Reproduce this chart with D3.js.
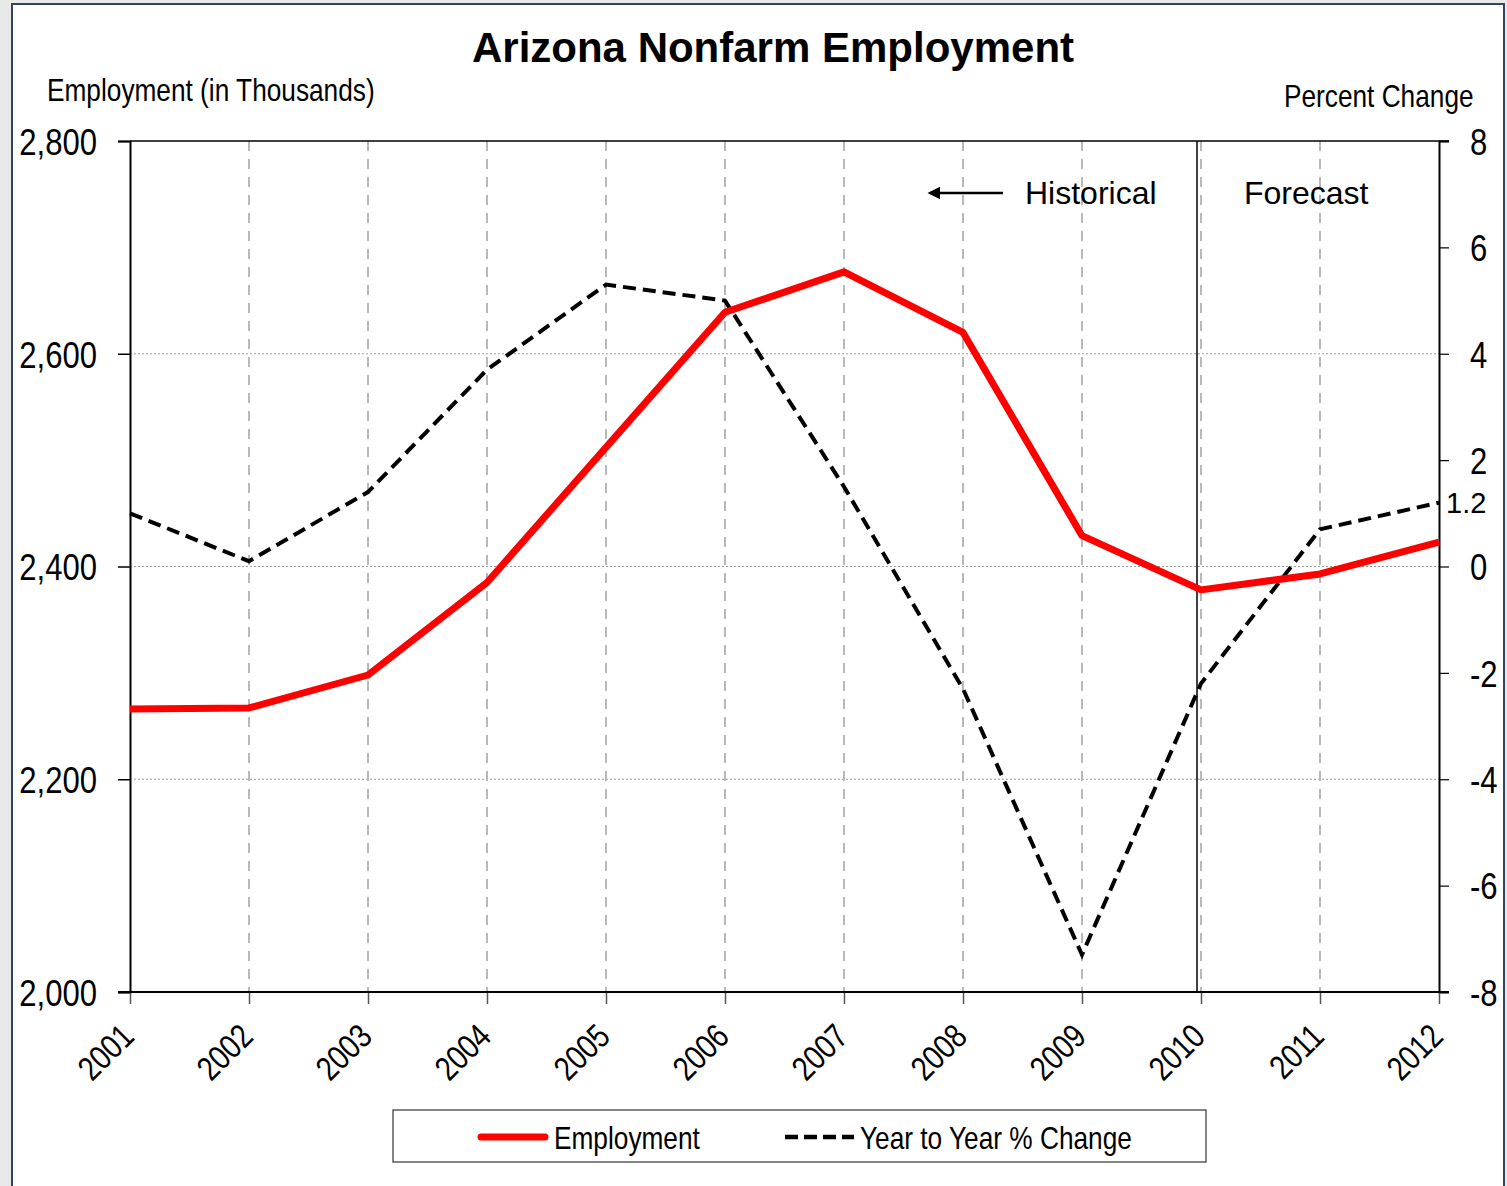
<!DOCTYPE html>
<html>
<head>
<meta charset="utf-8">
<script src="https://cdn.jsdelivr.net/npm/d3@7"></script>
<style>
    body { margin: 0; background: #e9e9e9; }
    #chart { width: 1507px; height: 1186px; }
    text { fill: #000; font-family: "Liberation Sans", Arial, sans-serif; }
</style>
</head>
<body>
<div id="chart"></div>
<script>
const years = [2001, 2002, 2003, 2004, 2005, 2006, 2007, 2008, 2009, 2010, 2011, 2012];
const employment = [2266, 2267, 2298, 2385, 2512, 2639, 2677, 2620, 2429, 2378, 2393, 2423];
const pctChange = [1.0, 0.1, 1.4, 3.7, 5.3, 5.0, 1.5, -2.3, -7.3, -2.2, 0.7, 1.2];
const leftTicks = [2000, 2200, 2400, 2600, 2800];
const rightTicks = [-8, -6, -4, -2, 0, 2, 4, 6, 8];
const forecastStart = 2010;

// no Arial Narrow here, so squeeze the glyphs instead
function condense(sel, f) {
    sel.each(function() {
        const w = this.getComputedTextLength();
        d3.select(this).attr("textLength", w * f).attr("lengthAdjust", "spacingAndGlyphs");
    });
}

const svg = d3.select("#chart").append("svg")
    .attr("width", 1507)
    .attr("height", 1186);

// card behind the chart
svg.append("rect")
    .attr("x", 12).attr("y", 4)
    .attr("width", 1492).attr("height", 1190)
    .attr("fill", "#fff")
    .attr("stroke", "#2f4563")
    .attr("stroke-width", 2);

const margin = {top: 141, left: 130, right: 1439, bottom: 992};

const x = d3.scaleLinear().domain([2001, 2012]).range([margin.left, margin.right]);
const yL = d3.scaleLinear().domain([2000, 2800]).range([margin.bottom, margin.top]);
const yR = d3.scaleLinear().domain([-8, 8]).range([margin.bottom, margin.top]);

// horizontal dotted gridlines
svg.append("g").selectAll("line")
    .data(leftTicks.filter(d => d > 2000 && d < 2800))
    .join("line")
    .attr("x1", margin.left).attr("x2", margin.right)
    .attr("y1", d => yL(d)).attr("y2", d => yL(d))
    .attr("stroke", "#9a9a9a")
    .attr("stroke-width", 1)
    .attr("stroke-dasharray", "2,2");

// vertical dashed gridlines
svg.append("g").selectAll("line")
    .data(years.slice(1, -1))
    .join("line")
    .attr("x1", d => x(d)).attr("x2", d => x(d))
    .attr("y1", margin.top).attr("y2", margin.bottom)
    .attr("stroke", "#b8b8b8")
    .attr("stroke-width", 2)
    .attr("stroke-dasharray", "10,8");

// plot frame top
svg.append("line")
    .attr("x1", margin.left).attr("x2", margin.right + 10)
    .attr("y1", margin.top).attr("y2", margin.top)
    .attr("stroke", "#000").attr("stroke-width", 1.5);

// left axis
const leftAxis = svg.append("g")
    .attr("transform", `translate(${margin.left},0)`)
    .call(d3.axisLeft(yL).tickValues(leftTicks).tickSize(12).tickPadding(21).tickFormat(d3.format(",")));
leftAxis.select(".domain").attr("stroke", "#000").attr("stroke-width", 2);
leftAxis.selectAll(".tick line").attr("stroke", "#000").attr("stroke-width", 1.5);
leftAxis.selectAll("text").attr("font-size", 37).attr("dy", "0.36em").attr("font-family", null)
    .call(condense, 0.84);

// right axis
const rightAxis = svg.append("g")
    .attr("transform", `translate(${margin.right},0)`)
    .call(d3.axisRight(yR).tickValues(rightTicks).tickSize(10).tickFormat(d => String(d)));
rightAxis.select(".domain").attr("stroke", "#000").attr("stroke-width", 2);
rightAxis.selectAll(".tick line").attr("stroke", "#000").attr("stroke-width", 1.2);
rightAxis.selectAll("text").attr("font-size", 37).attr("dy", "0.36em").attr("font-family", null)
    .attr("text-anchor", "start").attr("x", 31)
    .call(condense, 0.84);

// bottom axis
const bottomAxis = svg.append("g")
    .attr("transform", `translate(0,${margin.bottom})`)
    .call(d3.axisBottom(x).tickValues(years).tickSize(12).tickFormat(d3.format("d")));
bottomAxis.select(".domain").remove();
bottomAxis.selectAll(".tick line").attr("stroke", "#555").attr("stroke-width", 1.5);
bottomAxis.selectAll("text")
    .attr("font-size", 34)
    .attr("font-family", null)
    .attr("text-anchor", "end")
    .attr("dy", "0.35em")
    .attr("x", 0).attr("y", 0)
    .attr("transform", "translate(-3,38) rotate(-45)")
    .call(condense, 0.82);
svg.append("line")
    .attr("x1", margin.left - 12).attr("x2", margin.right + 10)
    .attr("y1", margin.bottom).attr("y2", margin.bottom)
    .attr("stroke", "#000").attr("stroke-width", 2);

// forecast divider
svg.append("line")
    .attr("x1", x(forecastStart) - 4).attr("x2", x(forecastStart) - 4)
    .attr("y1", margin.top).attr("y2", margin.bottom)
    .attr("stroke", "#000").attr("stroke-width", 1.5);

// lines
const empLine = d3.line().x((d, i) => x(years[i])).y(d => yL(d));
const pctLine = d3.line().x((d, i) => x(years[i])).y(d => yR(d));

svg.append("path")
    .datum(pctChange)
    .attr("fill", "none")
    .attr("stroke", "#000")
    .attr("stroke-width", 4)
    .attr("stroke-dasharray", "13,7")
    .attr("d", pctLine);

svg.append("path")
    .datum(employment)
    .attr("fill", "none")
    .attr("stroke", "#ff0000")
    .attr("stroke-width", 7)
    .attr("stroke-linejoin", "round")
    .attr("d", empLine);

// last value label
svg.append("text")
    .attr("x", x(2012) + 7)
    .attr("y", yR(pctChange[pctChange.length - 1]) + 10)
    .attr("font-family", "'Liberation Serif', 'Times New Roman', serif")
    .attr("font-size", 29)
    .text(pctChange[pctChange.length - 1].toFixed(1));

// title and axis titles
svg.append("text")
    .attr("x", 773).attr("y", 62)
    .attr("text-anchor", "middle")
    .attr("font-weight", "bold")
    .attr("font-size", 42)
    .text("Arizona Nonfarm Employment");

svg.append("text")
    .attr("x", 47).attr("y", 101)
    .attr("font-size", 32)
    .text("Employment (in Thousands)")
    .call(condense, 0.82);

// squeezed with a transform so its box stays honest
svg.append("text")
    .attr("transform", "translate(1284,107) scale(0.82,1)")
    .attr("font-size", 32)
    .text("Percent Change");

// Historical / Forecast annotations
svg.append("defs").append("marker")
    .attr("id", "arrow")
    .attr("viewBox", "0 0 10 10")
    .attr("refX", 8).attr("refY", 5)
    .attr("markerWidth", 6).attr("markerHeight", 5)
    .attr("orient", "auto")
    .append("path")
    .attr("d", "M0,0 L10,5 L0,10 z")
    .attr("fill", "#000");

svg.append("line")
    .attr("x1", 1003).attr("x2", 930)
    .attr("y1", 193).attr("y2", 193)
    .attr("stroke", "#000").attr("stroke-width", 2.5)
    .attr("marker-end", "url(#arrow)");

svg.append("text")
    .attr("x", 1025).attr("y", 204)
    .attr("font-size", 32)
    .text("Historical");

svg.append("text")
    .attr("x", 1244).attr("y", 204)
    .attr("font-size", 32)
    .text("Forecast");

// legend
const legend = svg.append("g");
legend.append("rect")
    .attr("x", 393).attr("y", 1110)
    .attr("width", 813).attr("height", 52)
    .attr("fill", "#fff")
    .attr("stroke", "#333").attr("stroke-width", 1.2);

legend.append("line")
    .attr("x1", 481).attr("x2", 545)
    .attr("y1", 1137).attr("y2", 1137)
    .attr("stroke", "#ff0000").attr("stroke-width", 7)
    .attr("stroke-linecap", "round");
legend.append("text")
    .attr("x", 554).attr("y", 1149)
    .attr("font-size", 32)
    .text("Employment")
    .call(condense, 0.82);

legend.append("line")
    .attr("x1", 785).attr("x2", 854)
    .attr("y1", 1137).attr("y2", 1137)
    .attr("stroke", "#000").attr("stroke-width", 4.5)
    .attr("stroke-dasharray", "13,6");
legend.append("text")
    .attr("x", 860).attr("y", 1149)
    .attr("font-size", 32)
    .text("Year to Year % Change")
    .call(condense, 0.82);
</script>
</body>
</html>
